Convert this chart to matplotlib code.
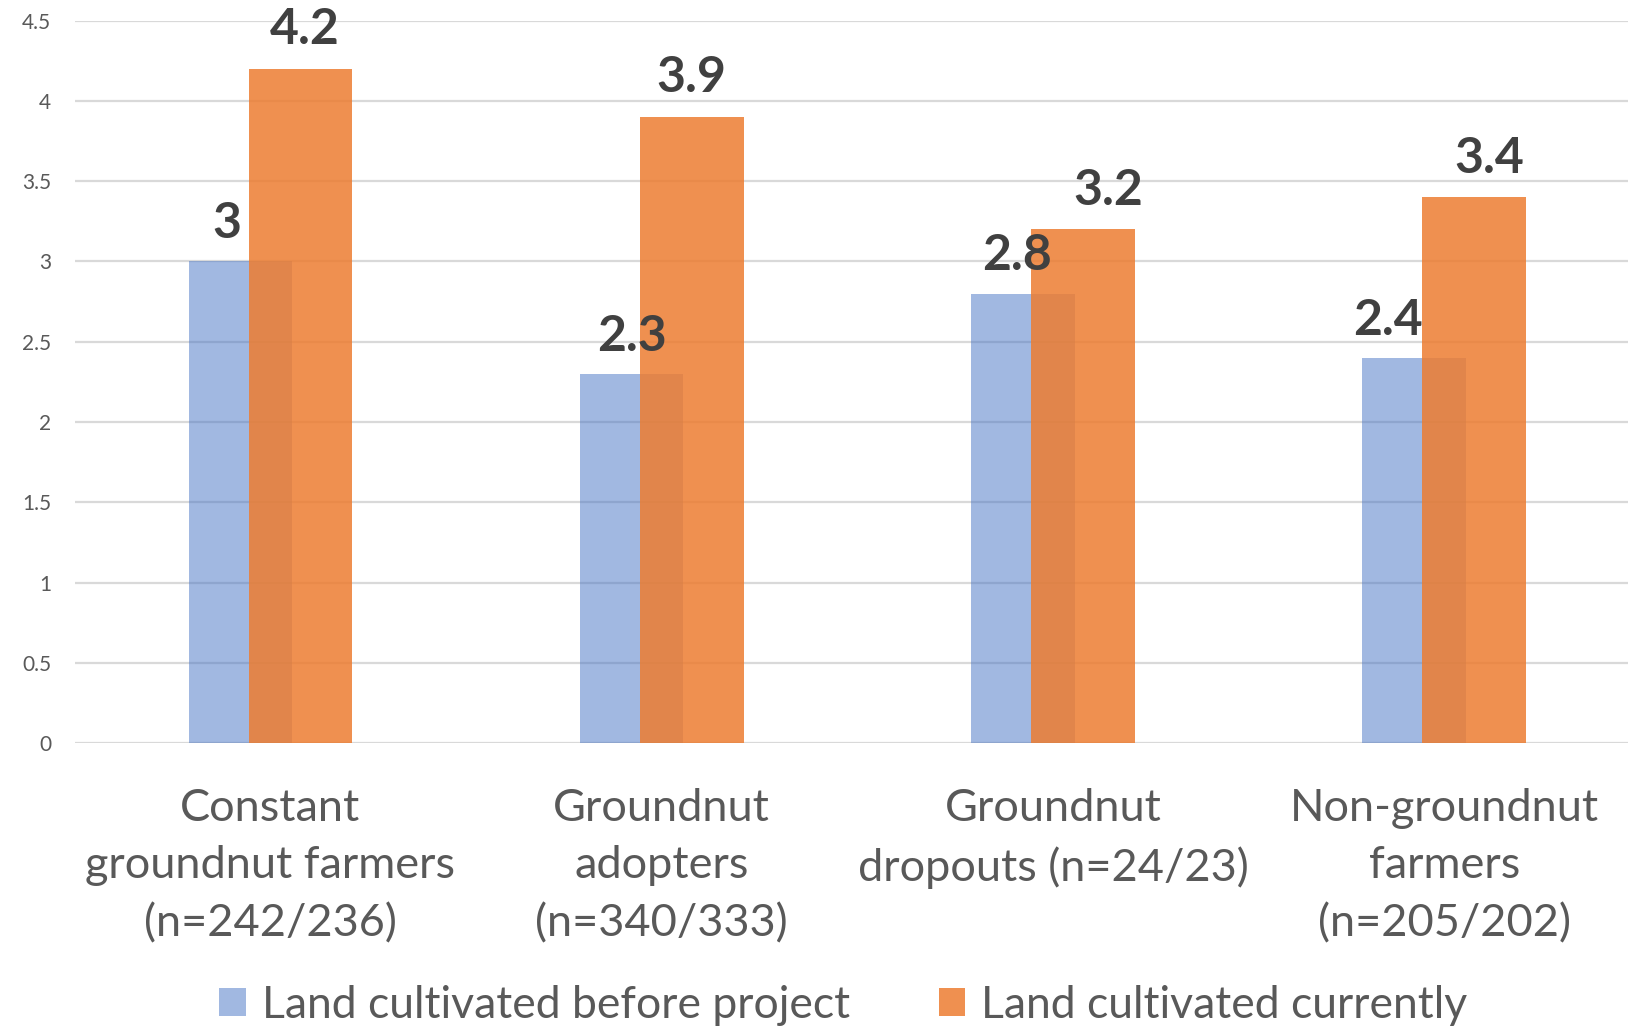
import matplotlib
matplotlib.use("Agg")
import matplotlib.pyplot as plt
from matplotlib.ticker import FuncFormatter, MultipleLocator
from matplotlib.patches import Patch
import numpy as np

categories = [
    "Constant\ngroundnut farmers\n(n=242/236)",
    "Groundnut\nadopters\n(n=340/333)",
    "Groundnut\ndropouts (n=24/23)",
    "Non-groundnut\nfarmers\n(n=205/202)",
]
before_project = [3.0, 2.3, 2.8, 2.4]
currently = [4.2, 3.9, 3.2, 3.4]
series_names = ["Land cultivated before project", "Land cultivated currently"]

# horizontal nudges (points) for the value labels
before_nudge = [-10, 0, -4, -19]
current_nudge = [3, 0, 18, 11]

plt.rcParams["font.family"] = ["Lato", "DejaVu Sans"]

fig = plt.figure(figsize=(16.28, 10.28), dpi=100)
ax = fig.add_axes([0.046, 0.277, 0.954, 0.703])

x = np.arange(len(categories))
width = 0.265
offset = 0.077

blue = "#4472C4"
orange = "#ED7D31"

ax.bar(x - offset, before_project, width, color=blue, alpha=0.5, zorder=2)
ax.bar(x + offset, currently, width, color=orange, alpha=0.85, zorder=3)

label_color = "#404040"
for xi, v, dx in zip(x - offset, before_project, before_nudge):
    ax.annotate(f"{v:g}", (xi, v), xytext=(dx, 11), textcoords="offset points",
                ha="center", va="bottom", fontsize=36, fontweight="bold",
                color=label_color, zorder=5)
for xi, v, dx in zip(x + offset, currently, current_nudge):
    ax.annotate(f"{v:g}", (xi, v), xytext=(dx, 12), textcoords="offset points",
                ha="center", va="bottom", fontsize=36, fontweight="bold",
                color=label_color, zorder=5)

ax.set_ylim(0, 4.5)
ax.set_xlim(-0.5, 3.47)
ax.yaxis.set_major_locator(MultipleLocator(0.5))
ax.yaxis.set_major_formatter(FuncFormatter(lambda v, p: f"{v:g}"))
ax.grid(axis="y", color="#D9D9D9", linewidth=1.6, zorder=0)
ax.set_axisbelow(True)
for s in ax.spines.values():
    s.set_visible(False)
ax.tick_params(axis="y", length=0, pad=17, labelsize=15, labelcolor="#595959")
ax.tick_params(axis="x", length=0, pad=32, labelsize=32.5, labelcolor="#595959")
ax.set_xticks(x)
ax.set_xticklabels(categories, linespacing=1.5)

handles = [Patch(facecolor=blue, alpha=0.5), Patch(facecolor=orange, alpha=0.85)]
fig.legend(handles, series_names, loc="center", bbox_to_anchor=(0.518, 0.022),
           ncol=2, frameon=False, fontsize=32, labelcolor="#595959",
           handlelength=0.6, handleheight=0.6, handletextpad=0.35,
           columnspacing=2.0)

fig.savefig("out.png", dpi=100, facecolor="white")
